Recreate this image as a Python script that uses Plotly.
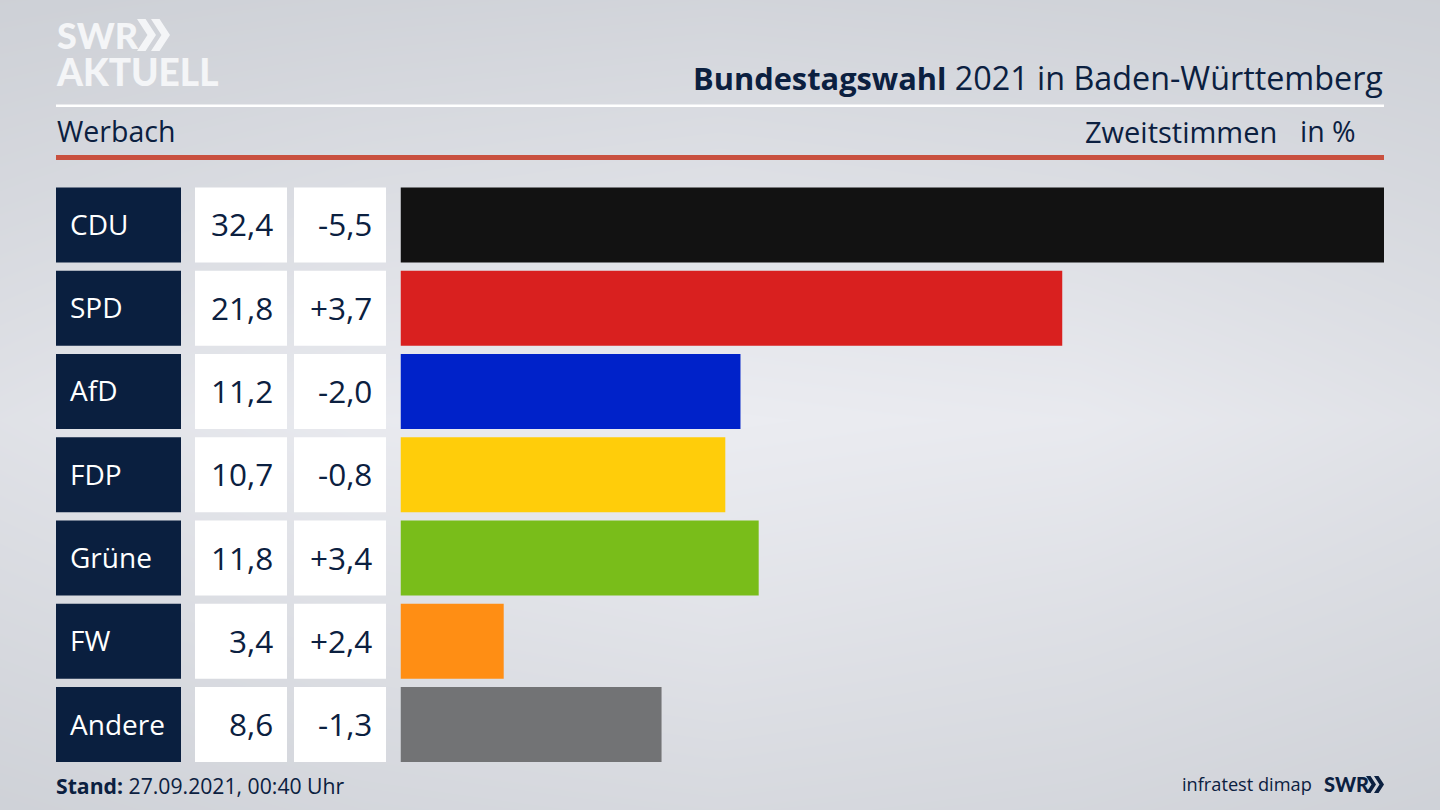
import plotly.graph_objects as go

FONT = "Open Sans"
LOGO_FONT = "Lato Black, Lato"
NAVY = "#0b2040"
LOGO = "#f4f5f7"
W, H = 1440, 810

parties = ["CDU", "SPD", "AfD", "FDP", "Grüne", "FW", "Andere"]
values = [32.4, 21.8, 11.2, 10.7, 11.8, 3.4, 8.6]
diffs = [-5.5, 3.7, -2.0, -0.8, 3.4, 2.4, -1.3]
colors = ["#121212", "#d9201f", "#0022c9", "#ffcd0a", "#79bd1a", "#ff8e14", "#727375"]

# backdrop brightness
bg_x = [0, 360, 720, 1080, 1440]
bg_y = [0, 200, 420, 620, 810]
bg_z = [
    [0.08, 0.16, 0.22, 0.16, 0.08],
    [0.34, 0.52, 0.62, 0.52, 0.34],
    [0.65, 0.92, 1.00, 0.92, 0.65],
    [0.38, 0.58, 0.70, 0.58, 0.38],
    [0.12, 0.28, 0.36, 0.28, 0.12],
]


def px(x):
    return x / W


def py(y):
    return 1 - y / H


def de(v, signed=False):
    s = f"{v:+.1f}" if signed else f"{v:.1f}"
    return s.replace(".", ",")


def label(text, x, y, size, color=NAVY, anchor="left", font=FONT):
    fig.add_annotation(text=text, x=px(x), y=py(y), xref="paper", yref="paper",
                       xanchor=anchor, yanchor="middle", align=anchor, showarrow=False,
                       font=dict(family=font, size=size, color=color))


def rule(x0, x1, y0, y1, color):
    fig.add_shape(type="rect", xref="paper", yref="paper", x0=px(x0), x1=px(x1),
                  y0=py(y0), y1=py(y1), fillcolor=color, line_width=0)


def chevrons(x, y, w, h, gap, color):
    # the two arrows of the SWR logo
    for i in range(2):
        x0 = x + i * gap
        pts = [(x0, y), (x0 + w * 0.45, y), (x0 + w, y + h / 2), (x0 + w * 0.45, y + h), (x0, y + h), (x0 + w * 0.55, y + h / 2)]
        path = "M " + " L ".join(f"{px(a)},{py(b)}" for a, b in pts) + " Z"
        fig.add_shape(type="path", xref="paper", yref="paper", path=path, fillcolor=color, line_width=0)


fig = go.Figure()

fig.add_trace(go.Heatmap(x=bg_x, y=bg_y, z=bg_z, zsmooth="best", showscale=False, hoverinfo="skip",
                         zmin=0, zmax=1, colorscale=[[0, "#cbced4"], [1, "#ebecf1"]],
                         xaxis="x", yaxis="y"))

# three columns left of the bars, all bars share y2
fig.add_trace(go.Bar(y=parties, x=[1] * 7, orientation="h", marker=dict(color="#0a1f3f", line_width=0),
                     xaxis="x2", yaxis="y2", hoverinfo="skip"))
fig.add_trace(go.Bar(y=parties, x=[1] * 7, orientation="h", marker=dict(color="white", line_width=0),
                     xaxis="x3", yaxis="y2", hoverinfo="skip"))
fig.add_trace(go.Bar(y=parties, x=[1] * 7, orientation="h", marker=dict(color="white", line_width=0),
                     xaxis="x4", yaxis="y2", hoverinfo="skip"))
fig.add_trace(go.Bar(y=parties, x=values, orientation="h", marker=dict(color=colors, line_width=0),
                     xaxis="x5", yaxis="y2", hovertemplate="%{y}: %{x}<extra></extra>"))

for p, v, d in zip(parties, values, diffs):
    fig.add_annotation(text=p, x=0, y=p, xref="x2", yref="y2", xanchor="left", xshift=12, yshift=1, showarrow=False,
                       font=dict(family=FONT, size=28, color="white"))
    fig.add_annotation(text=de(v), x=1, y=p, xref="x3", yref="y2", xanchor="right", xshift=-12, yshift=1, showarrow=False,
                       font=dict(family=FONT, size=31.5, color=NAVY))
    fig.add_annotation(text=de(d, True), x=1, y=p, xref="x4", yref="y2", xanchor="right", xshift=-12, yshift=1, showarrow=False,
                       font=dict(family=FONT, size=31.5, color=NAVY))

rule(56, 1384, 104.5, 107, "white")
rule(56, 1384, 155, 160, "#c9503f")

label("<b><span style='font-size:36px'>SWR</span><br><span style='font-size:37px'>AKTUELL</span></b>",
      54, 53, 28.5, LOGO, font=LOGO_FONT)
chevrons(137, 19, 19, 32, 14, LOGO)

label("<b><span style='font-size:30.8px'>Bundestagswahl</span></b> 2021 in Baden-Württemberg", 1385, 77, 32.3, anchor="right")
label("Werbach", 55, 131, 28.5)
label("Zweitstimmen", 1279, 131, 29, anchor="right")
label("in %", 1358, 131, 28.5, anchor="right")

label("<b>Stand:</b> 27.09.2021, 00:40 Uhr", 54, 785, 21.2)
label("infratest dimap", 1314, 784, 18.2, anchor="right")
label("<b>SWR</b>", 1322, 784, 20, font=LOGO_FONT)
chevrons(1366, 776, 10, 17, 8, NAVY)

hidden = dict(visible=False, fixedrange=True)
fig.update_layout(
    width=W, height=H, autosize=False,
    margin=dict(l=0, r=0, t=0, b=0),
    paper_bgcolor="#dcdee3", plot_bgcolor="rgba(0,0,0,0)",
    showlegend=False, bargap=0.1,
    xaxis=dict(domain=[0, 1], range=[0, 1440], **hidden),
    yaxis=dict(domain=[0, 1], range=[810, 0], **hidden),
    xaxis2=dict(domain=[px(56), px(181)], range=[0, 1], anchor="y2", **hidden),
    xaxis3=dict(domain=[px(195), px(287)], range=[0, 1], anchor="y2", **hidden),
    xaxis4=dict(domain=[px(294), px(386)], range=[0, 1], anchor="y2", **hidden),
    xaxis5=dict(domain=[px(400.5), px(1384)], range=[0, 32.4], anchor="y2", **hidden),
    yaxis2=dict(domain=[py(766.2), py(183.3)], range=[6.5, -0.5], type="category",
                categoryorder="array", categoryarray=parties, anchor="x2", **hidden),
)

# the default page margin would push the chart 8px off
fig.write_html("out.html", config=dict(displayModeBar=False),
               post_script="document.body.style.margin='0';")
